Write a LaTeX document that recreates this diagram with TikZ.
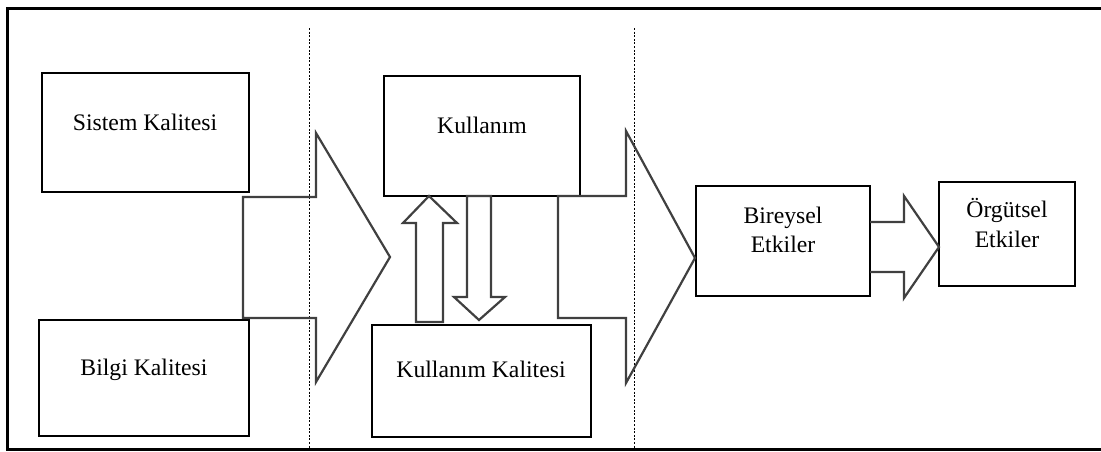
\documentclass[tikz,border=0pt]{standalone}
\usepackage{fontspec}
\setmainfont{Liberation Serif}
\begin{document}
\begin{tikzpicture}[x=1pt,y=-1pt,
  box/.style={draw=black,line width=2.6pt,inner sep=0pt},
  lbl/.style={inner sep=0pt,font=\fontsize{23.7}{29}\selectfont,align=center},
  blockarrow/.style={draw=black!75,line width=2.2pt,line join=miter},
  divider/.style={draw=black,line width=1pt,dash pattern=on 2pt off 1.6pt},
  frame/.style={draw=black,line width=2.2pt}]
\useasboundingbox (0,0) rectangle (1101,451);
% outer frame
\draw[frame] (1101,8.5) -- (7.5,8.5) -- (7.5,449.5) -- (1101,449.5);
% dividers
\draw[divider] (309,28) -- (309,449);
\draw[divider] (634,28) -- (634,449);
% boxes
\draw[box] (42,73) rectangle (249,192);
\draw[box] (39,320) rectangle (249,436);
\draw[box] (384,76) rectangle (580,196);
\draw[box] (372,325) rectangle (591,437);
\draw[box] (696,186) rectangle (870,296);
\draw[box] (939,182) rectangle (1075,286);
% labels
\node[lbl,anchor=base] (t1) at (145,130) {Sistem Kalitesi};
\node[lbl,anchor=base] (t2) at (144,375) {Bilgi Kalitesi};
\node[lbl,anchor=base] (t3) at (482,133) {Kullanım};
\node[lbl,anchor=base] (t4) at (481,377) {Kullanım Kalitesi};
\node[lbl,anchor=base] (t5a) at (783,223) {Bireysel};
\node[lbl,anchor=base] (t5b) at (783,252) {Etkiler};
\node[lbl,anchor=base] (t6a) at (1007,217) {Örgütsel};
\node[lbl,anchor=base] (t6b) at (1007,247) {Etkiler};
% block arrows
\draw[blockarrow] (243,197) -- (316,197) -- (316,133) -- (390,257) -- (316,382) -- (316,318) -- (243,318) -- cycle;
\draw[blockarrow] (558,196) -- (626,196) -- (626,131) -- (695,258) -- (626,383) -- (626,318) -- (558,318) -- cycle;
\draw[blockarrow] (870,222) -- (904,222) -- (904,196) -- (939,247) -- (904,298) -- (904,272) -- (870,272);
\draw[blockarrow] (416,322) -- (416,223) -- (403,223) -- (429,196) -- (457,223) -- (443,223) -- (443,322) -- cycle;
\draw[blockarrow] (467,196) -- (467,297) -- (454,297) -- (479,320) -- (505,297) -- (491,297) -- (491,196) -- cycle;
\end{tikzpicture}
\end{document}
